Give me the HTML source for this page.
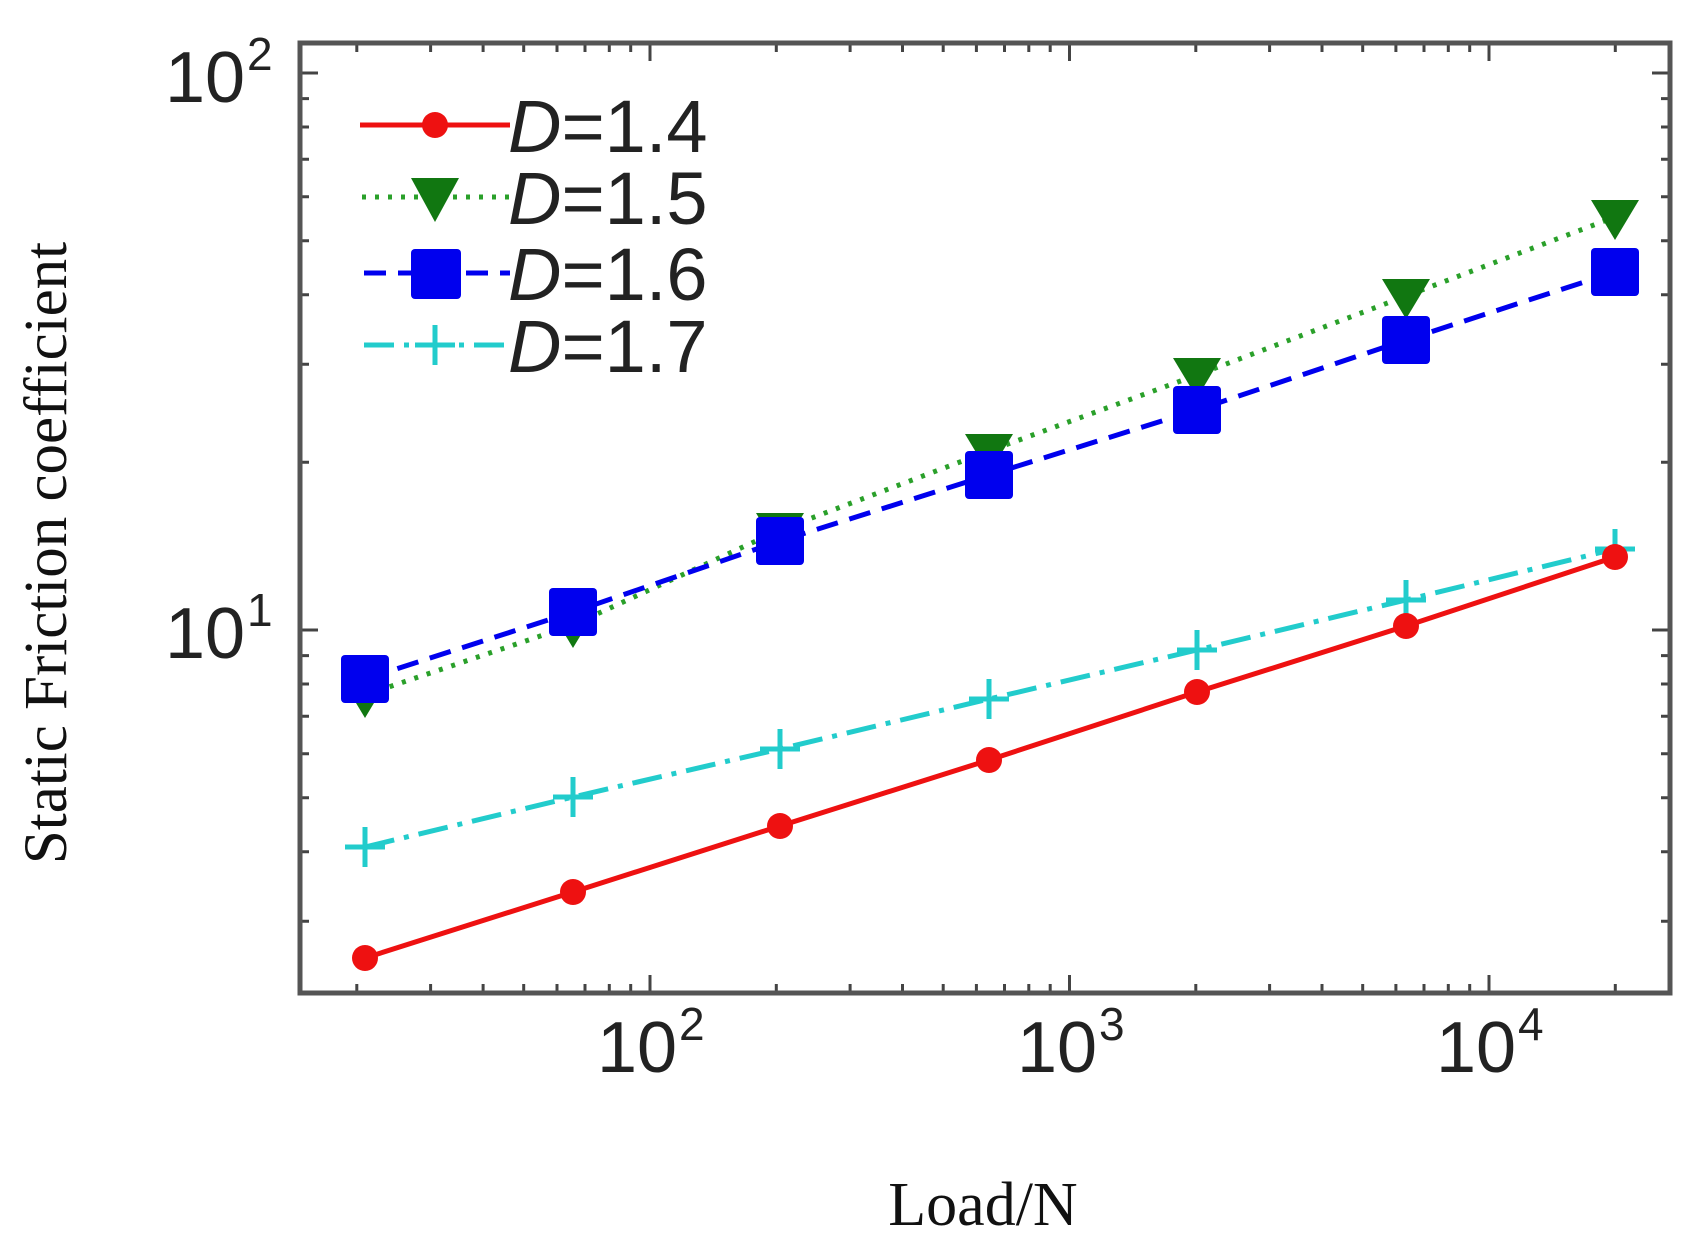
<!DOCTYPE html>
<html><head><meta charset="utf-8"><style>html,body{margin:0;padding:0;background:#fff}svg{display:block}</style></head>
<body>
<svg width="1695" height="1257" viewBox="0 0 1695 1257" xmlns="http://www.w3.org/2000/svg">
<rect width="1695" height="1257" fill="#fff"/>
<g stroke="#444" stroke-width="3" fill="none">
<path d="M356.8,993v-9M430.6,993v-9M483.1,993v-9M523.7,993v-9M557,993v-9M585,993v-9M609.3,993v-9M630.7,993v-9M650,993v-18M776.3,993v-9M850.1,993v-9M902.5,993v-9M943.2,993v-9M976.4,993v-9M1004.5,993v-9M1028.8,993v-9M1050.2,993v-9M1069.5,993v-18M1195.8,993v-9M1269.6,993v-9M1322,993v-9M1362.7,993v-9M1395.9,993v-9M1424,993v-9M1448.3,993v-9M1469.7,993v-9M1489,993v-18M1615.3,993v-9"/>
<path d="M356.8,43v9M430.6,43v9M483.1,43v9M523.7,43v9M557,43v9M585,43v9M609.3,43v9M630.7,43v9M650,43v18M776.3,43v9M850.1,43v9M902.5,43v9M943.2,43v9M976.4,43v9M1004.5,43v9M1028.8,43v9M1050.2,43v9M1069.5,43v18M1195.8,43v9M1269.6,43v9M1322,43v9M1362.7,43v9M1395.9,43v9M1424,43v9M1448.3,43v9M1469.7,43v9M1489,43v18M1615.3,43v9"/>
<path d="M300,73h18M300,98.6h9M300,127h9M300,159.3h9M300,196.7h9M300,240.7h9M300,294.7h9M300,364.3h9M300,462.3h9M300,630h18M300,655.6h9M300,684h9M300,716.3h9M300,753.7h9M300,797.7h9M300,851.7h9M300,921.3h9"/>
<path d="M1670,73h-18M1670,98.6h-9M1670,127h-9M1670,159.3h-9M1670,196.7h-9M1670,240.7h-9M1670,294.7h-9M1670,364.3h-9M1670,462.3h-9M1670,630h-18M1670,655.6h-9M1670,684h-9M1670,716.3h-9M1670,753.7h-9M1670,797.7h-9M1670,851.7h-9M1670,921.3h-9"/>
</g>
<rect x="300" y="43" width="1370" height="950" fill="none" stroke="#555" stroke-width="5"/>
<g font-family="Liberation Sans, sans-serif" fill="#222">
<text x="165" y="102" font-size="72">10</text><text x="247" y="70" font-size="46">2</text>
<text x="165" y="658" font-size="72">10</text><text x="247" y="626" font-size="46">1</text>
<text x="597" y="1072" font-size="72">10</text><text x="679" y="1040" font-size="46">2</text>
<text x="1017" y="1072" font-size="72">10</text><text x="1099" y="1040" font-size="46">3</text>
<text x="1436" y="1072" font-size="72">10</text><text x="1518" y="1040" font-size="46">4</text>
</g>
<text x="983" y="1225" font-family="Liberation Serif, serif" font-size="62" text-anchor="middle" fill="#111">Load/N</text>
<text transform="translate(66,553) rotate(-90)" font-family="Liberation Serif, serif" font-size="61" text-anchor="middle" fill="#111">Static Friction coefficient</text>
<polyline points="365,695 573,625 780,530 989,451 1197,375 1406,296 1615,217" fill="none" stroke="#2aa02a" stroke-width="5" stroke-dasharray="4,9"/>
<polyline points="365,679 573,612 780,541 989,475 1197,410 1406,340 1615,272" fill="none" stroke="#0000ee" stroke-width="5" stroke-dasharray="22,12"/>
<polyline points="365,847 573,797 780,749 989,699 1197,650 1406,600 1615,549" fill="none" stroke="#22cccc" stroke-width="5" stroke-dasharray="30,10,5,10"/>
<polyline points="365,958 573,892 780,826 989,760 1197,692 1406,626 1615,557" fill="none" stroke="#ee1111" stroke-width="5"/>
<g fill="#117711">
<polygon points="341,678 389,678 365,718"/><polygon points="549,608 597,608 573,648"/><polygon points="756,513 804,513 780,553"/><polygon points="965,434 1013,434 989,474"/><polygon points="1173,358 1221,358 1197,398"/><polygon points="1382,279 1430,279 1406,319"/><polygon points="1591,200 1639,200 1615,240"/>
</g>
<g fill="#0000ee">
<rect x="341" y="655" width="48" height="48" rx="4"/><rect x="549" y="588" width="48" height="48" rx="4"/><rect x="756" y="517" width="48" height="48" rx="4"/><rect x="965" y="451" width="48" height="48" rx="4"/><rect x="1173" y="386" width="48" height="48" rx="4"/><rect x="1382" y="316" width="48" height="48" rx="4"/><rect x="1591" y="248" width="48" height="48" rx="4"/>
</g>
<g stroke="#22cccc" stroke-width="5">
<path d="M345,847h40M365,827v40M553,797h40M573,777v40M760,749h40M780,729v40M969,699h40M989,679v40M1177,650h40M1197,630v40M1386,600h40M1406,580v40M1595,549h40M1615,529v40"/>
</g>
<g fill="#ee1111">
<circle cx="365" cy="958" r="13"/><circle cx="573" cy="892" r="13"/><circle cx="780" cy="826" r="13"/><circle cx="989" cy="760" r="13"/><circle cx="1197" cy="692" r="13"/><circle cx="1406" cy="626" r="13"/><circle cx="1615" cy="557" r="13"/>
</g>
<line x1="360" y1="125" x2="510" y2="125" stroke="#ee1111" stroke-width="5"/><circle cx="435" cy="125" r="13" fill="#ee1111"/>
<line x1="362" y1="197" x2="510" y2="197" stroke="#2aa02a" stroke-width="5" stroke-dasharray="4,9"/><polygon points="411,178 459,178 435,222" fill="#117711"/>
<line x1="364" y1="273" x2="510" y2="273" stroke="#0000ee" stroke-width="5" stroke-dasharray="22,12"/><rect x="411" y="249" width="50" height="50" rx="4" fill="#0000ee"/>
<line x1="364" y1="345" x2="510" y2="345" stroke="#22cccc" stroke-width="5" stroke-dasharray="30,10,5,10"/><path d="M415,345h40M435,325v40" stroke="#22cccc" stroke-width="5"/>
<g font-family="Liberation Sans, sans-serif" font-size="74" fill="#222">
<text x="508" y="152"><tspan font-style="italic">D</tspan>=1.4</text>
<text x="508" y="224"><tspan font-style="italic">D</tspan>=1.5</text>
<text x="508" y="300"><tspan font-style="italic">D</tspan>=1.6</text>
<text x="508" y="372"><tspan font-style="italic">D</tspan>=1.7</text>
</g>
</svg>
</body></html>
